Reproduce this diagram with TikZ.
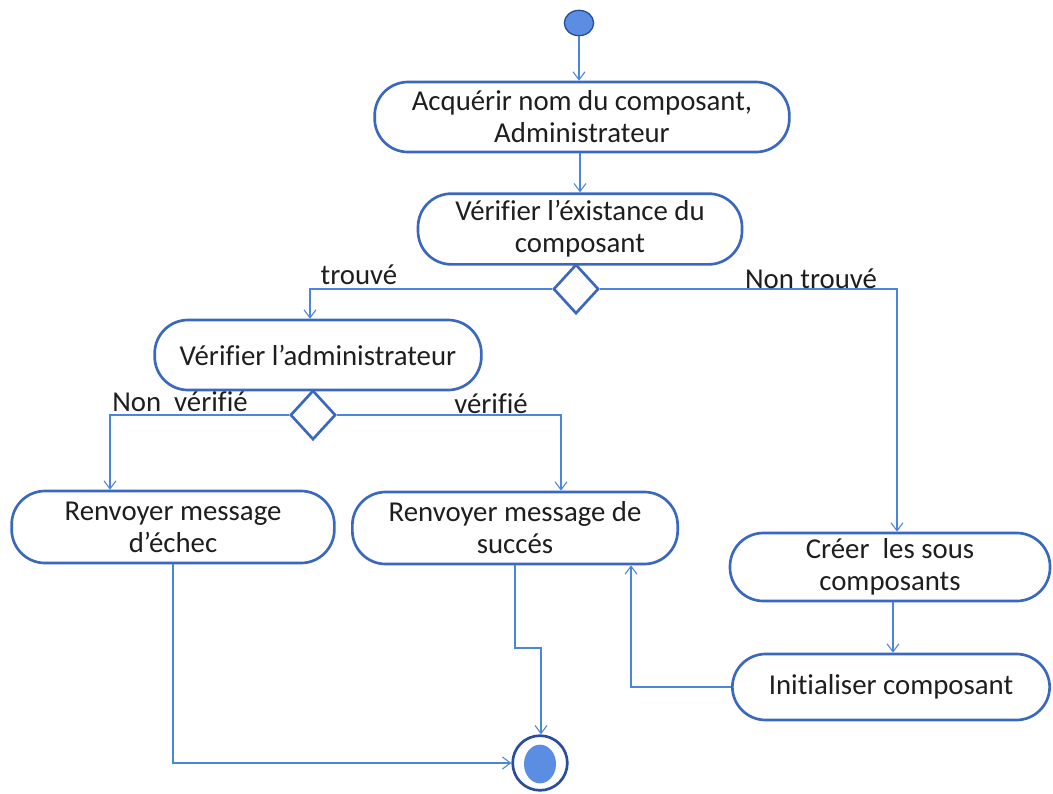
\documentclass[tikz,border=0pt]{standalone}
\usepackage{fontspec}
\setmainfont[Ligatures=NoCommon]{Carlito}
\usetikzlibrary{shapes.geometric,arrows.meta}

\definecolor{boxblue}{HTML}{3A68C0}
\definecolor{linkblue}{HTML}{4A86DE}
\definecolor{dotblue}{HTML}{5B8DE3}
\definecolor{ringblue}{HTML}{2A4C9C}
\definecolor{inkgray}{HTML}{1E1E1E}

\tikzset{
  activity/.style={draw=boxblue, line width=2pt, rectangle, rounded corners=25pt,
    align=center, text=inkgray, font=\fontsize{21.6}{24}\selectfont, inner sep=0pt},
  decision/.style={draw=boxblue, line width=2pt, diamond, minimum width=34pt,
    minimum height=37pt, inner sep=0pt},
  link/.style={draw=linkblue, line width=0.8pt},
  flow/.style={link, -{Straight Barb[length=6pt,width=9pt,line width=0.8pt]}},
  guard/.style={text=inkgray, font=\fontsize{21.6}{24}\selectfont, inner sep=0pt},
}

\begin{document}
\begin{tikzpicture}[x=0.75pt, y=-0.75pt]
  \useasboundingbox (0,0) rectangle (1053,793);

  % initial and final nodes
  \node (start) [ellipse, draw=ringblue, line width=1pt, fill=dotblue,
    minimum width=22pt, minimum height=19pt, inner sep=0pt] at (579,23) {};
  \node (stopring) [circle, draw=ringblue, line width=2pt, fill=white,
    minimum size=41pt, inner sep=0pt] at (540,763) {};
  \node (stopdot) [ellipse, fill=dotblue, minimum width=24pt, minimum height=29pt,
    inner sep=0pt] at (540,764) {};

  % activities
  \node (acq) [activity, minimum width=311pt, minimum height=52.5pt] at (582,117)
    {Acquérir nom du composant,\\Administrateur};
  \node (exist) [activity, minimum width=243pt, minimum height=53pt] at (580,229)
    {Vérifier l’éxistance du\\composant};
  \node (admin) [activity, minimum width=245pt, minimum height=52.5pt] at (318,355)
    {Vérifier l’administrateur};
  \node (fail) [activity, minimum width=242pt, minimum height=54pt] at (173,527)
    {Renvoyer message\\d’échec};
  \node (ok) [activity, minimum width=244pt, minimum height=54pt] at (515,528)
    {Renvoyer message de\\succés};
  \node (sub) [activity, minimum width=240pt, minimum height=51pt] at (890,567)
    {Créer\ \ les sous\\composants};
  \node (init) [activity, minimum width=238pt, minimum height=49.5pt] at (891,687)
    {Initialiser composant};

  % decisions
  \node (d1) [decision] at (576,289) {};
  \node (d2) [decision] at (313,415) {};

  % bend points
  \coordinate (tL) at (310,289);
  \coordinate (tR) at (897,289);
  \coordinate (vL) at (110,415);
  \coordinate (vR) at (561,415);
  \coordinate (okA) at (515,648);
  \coordinate (okB) at (541,648);
  \coordinate (failA) at (173,763);
  \coordinate (back) at (631,687);

  % control flow
  \draw[flow] (start) -- (acq.north -| start);
  \draw[flow] (acq.south -| exist) -- (exist.north);
  \draw[flow] (d1.west) -- (tL) -- (admin.north -| tL);
  \draw[flow] (d1.east) -- (tR) -- (sub.north -| tR);
  \draw[flow] (d2.west) -- (vL) -- (fail.north -| vL);
  \draw[flow] (d2.east) -- (vR) -- (ok.north -| vR);
  \draw[flow] (sub.south -| 893,0) -- (init.north -| 893,0);
  \draw[flow] (init.west) -- (back) -- (ok.south -| back);
  \draw[flow] (ok.south) -- (okA) -- (okB) -- (stopring.north -| okB);
  \draw[flow] (fail.south) -- (failA) -- (stopring.west);

  % guards
  \node[guard] (gtrouve) at (359,275) {trouvé};
  \node[guard] (gnontrouve) at (811,279) {Non trouvé};
  \node[guard] (gnonverif) at (180,402) {Non\ \ vérifié};
  \node[guard] (gverif) at (491,404) {vérifié};
\end{tikzpicture}
\end{document}
